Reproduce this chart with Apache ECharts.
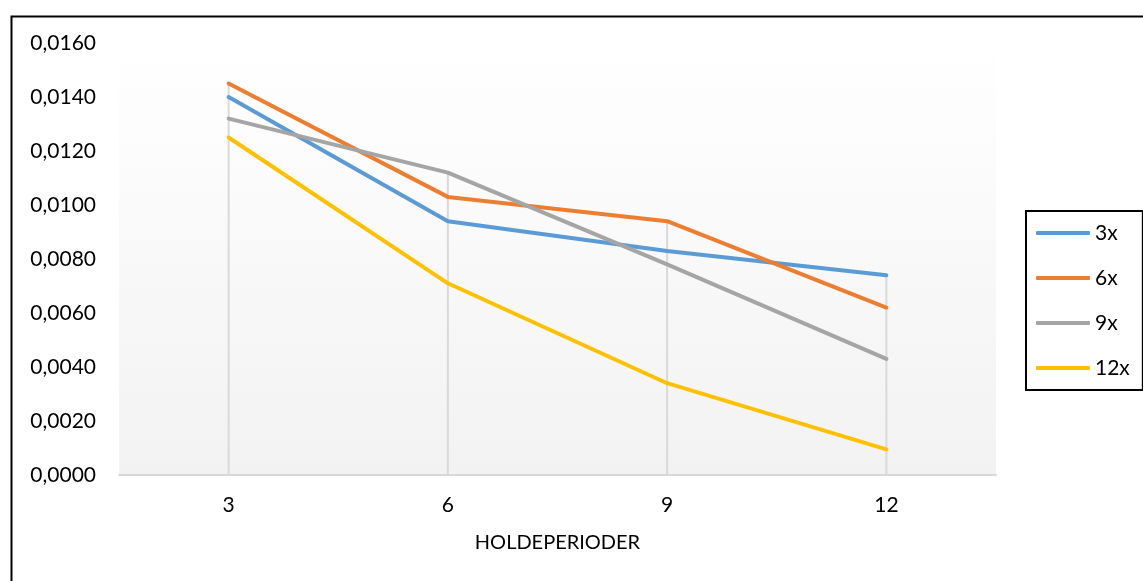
<!DOCTYPE html>
<html>
<head>
<meta charset="utf-8">
<script src="https://cdn.jsdelivr.net/npm/echarts@6/dist/echarts.min.js"></script>
<style>
  html, body { margin: 0; padding: 0; background: #ffffff; }
  #chart { width: 1143px; height: 581px; }
</style>
</head>
<body>
<div id="chart"></div>
<script>
// Holding periods on the category axis
const categories = ['3', '6', '9', '12'];

// Average return per holding period, one series per formation multiple
const seriesNames = ['3x', '6x', '9x', '12x'];
const values3x  = [0.0140, 0.0094, 0.0083, 0.0074];
const values6x  = [0.0145, 0.0103, 0.0094, 0.0062];
const values9x  = [0.0132, 0.0112, 0.0078, 0.0043];
const values12x = [0.0125, 0.0071, 0.0034, 0.00095];

const axisTitle = 'HOLDEPERIODER';
const colors = ['#5b9bd5', '#ed7d31', '#a5a5a5', '#ffc000'];

const FONT = 'Lato, "Noto Sans", sans-serif';

const seriesValues = [values3x, values6x, values9x, values12x];

// Drop lines run from the highest series value at each period down to the axis
const dropTops = categories.map((_, j) => Math.max(...seriesValues.map(s => s[j])));

const chart = echarts.init(document.getElementById('chart'), null, { renderer: 'canvas' });

chart.setOption({
  animation: false,
  backgroundColor: '#ffffff',
  textStyle: { fontFamily: FONT, color: '#000000' },
  grid: {
    left: 119,
    right: 147,
    top: 43,
    bottom: 106,
    show: true,
    borderWidth: 0,
    backgroundColor: {
      type: 'linear', x: 0, y: 0, x2: 0, y2: 1,
      colorStops: [
        { offset: 0, color: '#ffffff' },
        { offset: 1, color: '#f2f2f2' }
      ]
    }
  },
  graphic: [
    {
      type: 'rect',
      left: 9,
      top: 14,
      shape: { width: 1200, height: 600 },
      style: { fill: 'none', stroke: '#000000', lineWidth: 2 },
      silent: true,
      z: 100
    }
  ],
  legend: {
    orient: 'vertical',
    left: 1026,
    top: 211,
    data: seriesNames,
    icon: 'roundRect',
    itemWidth: 54,
    itemHeight: 4,
    itemGap: 21,
    padding: [10, 13, 10, 10],
    borderColor: '#000000',
    borderWidth: 2,
    textStyle: { fontSize: 21, fontFamily: FONT, color: '#000000', lineHeight: 24, padding: [0, 0, 0, 0] }
  },
  xAxis: {
    type: 'category',
    data: categories,
    boundaryGap: true,
    name: axisTitle,
    nameLocation: 'middle',
    nameGap: 58,
    nameTextStyle: { fontSize: 20, fontFamily: FONT, color: '#000000' },
    axisLine: { show: true, lineStyle: { color: '#d9d9d9', width: 2 } },
    axisTick: { show: false },
    axisLabel: { fontSize: 21, fontFamily: FONT, color: '#000000', margin: 20 },
    splitLine: { show: false }
  },
  yAxis: {
    type: 'value',
    min: 0,
    max: 0.016,
    interval: 0.002,
    axisLine: { show: false },
    axisTick: { show: false },
    splitLine: { show: false },
    axisLabel: {
      fontSize: 21,
      fontFamily: FONT,
      color: '#000000',
      margin: 23,
      formatter: v => v.toFixed(4).replace('.', ',')
    }
  },
  series: [
    {
      type: 'bar',
      data: dropTops,
      barWidth: 2,
      itemStyle: { color: '#d9d9d9' },
      silent: true,
      z: 1,
      legendHoverLink: false
    }
  ].concat(seriesNames.map((name, i) => ({
    name: name,
    type: 'line',
    data: seriesValues[i],
    showSymbol: false,
    symbol: 'none',
    color: colors[i],
    lineStyle: { color: colors[i], width: 4, cap: 'round', join: 'round' },
    itemStyle: { color: colors[i] },
    z: 3 + i
  })))
});
</script>
</body>
</html>
